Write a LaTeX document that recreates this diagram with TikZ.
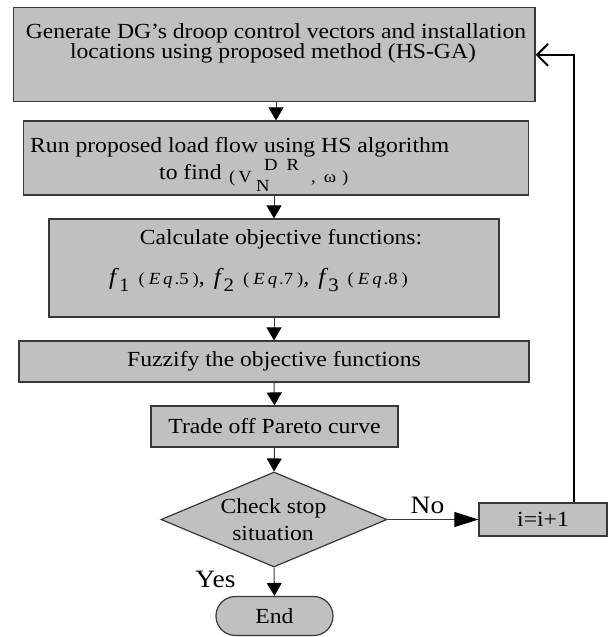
\documentclass[tikz,border=0pt]{standalone}
\usepackage{fontspec}
\setmainfont{Liberation Serif}[FakeStretch=1.1]
\usetikzlibrary{arrows.meta,shapes.geometric}
\definecolor{boxfill}{HTML}{C0C0C0}
\definecolor{edge}{HTML}{383838}
\tikzset{
  box/.style={draw=edge, line width=1.2pt, fill=boxfill, rectangle, inner sep=0pt},
  txt/.style={font=\fontsize{21.5}{20}\selectfont, inner sep=0pt},
  smalltxt/.style={font=\fontsize{17}{17}\selectfont, inner sep=0pt},
  bigtxt/.style={font=\fontsize{25}{25}\selectfont, inner sep=0pt},
  conn/.style={draw=edge, line width=1pt, -{Triangle[width=15pt,length=13pt,color=black]}},
  noarrow/.style={draw=edge, line width=1pt, -{Triangle[width=15pt,length=24pt,color=black]}},
  backarrow/.style={draw=black, line width=2pt, -{Straight Barb[width=22pt,length=11pt,line width=2pt]}}
}
\newcommand{\feq}[2]{{\fontsize{23}{23}\selectfont\textit{f}}\raisebox{-7pt}{\fontsize{19}{19}\selectfont #1}\hspace{9pt}{\fontsize{17}{17}\selectfont (\hspace{4pt}\textit{E\hspace{3pt}q}\hspace{2pt}.#2\hspace{4pt})}}
\begin{document}
\begin{tikzpicture}[x=1pt,y=-1pt]
\useasboundingbox (0,0) rectangle (608,637);
% boxes
\node[box, minimum width=521.3pt, minimum height=94pt] (b1) at (274.35,54.85) {};
\node[box, minimum width=504.6pt, minimum height=74pt] (b2) at (276,158) {};
\node[box, minimum width=450pt, minimum height=98pt] (b3) at (274,268) {};
\node[box, minimum width=510pt, minimum height=41pt, txt] (b4) at (274,361.5) {Fuzzify the objective functions};
\node[box, minimum width=247pt, minimum height=41pt, txt] (b5) at (274.5,426.5) {Trade off Pareto curve};
\node[box, shape=diamond, minimum width=226pt, minimum height=95pt, aspect=2.38] (dia) at (274,519.5) {};
\node[box, minimum width=128pt, minimum height=33pt, txt] (ib) at (543,519.5) {i=i+1};
\node[box, minimum width=117pt, minimum height=39pt, rounded corners=19.4pt, txt] (end) at (274.5,616) {End};
% texts
\node[txt, anchor=base] (t1a) at (276,38.5) {Generate DG’s droop control vectors and installation};
\node[txt, anchor=base] (t1b) at (273,58) {locations using proposed method (HS-GA)};
\node[txt, anchor=base west] (t2a) at (30,152) {Run proposed load flow using HS algorithm};
\node[txt, anchor=base west] (t2b) at (159,179) {to find};
\node[smalltxt, anchor=base west] (t2c) at (229,182) {(\hspace{3pt}V};
\node[smalltxt, anchor=base west] (t2d) at (264,170) {D\hspace{9pt}R};
\node[smalltxt, anchor=base west] (t2e) at (256,191) {N};
\node[smalltxt, anchor=base west] (t2f) at (311,182) {,\hspace{8pt}ω\hspace{6pt})};
\node[txt, anchor=base] (t3a) at (281,244) {Calculate objective functions:};
\node[txt, anchor=base west] (t3b) at (109,284) {\feq{1}{5},\hspace{9pt}\feq{2}{7},\hspace{9pt}\feq{3}{8}};
\node[txt, anchor=base] (t6a) at (273.5,513) {Check stop};
\node[txt, anchor=base] (t6b) at (273,540) {situation};
\node[bigtxt, anchor=base] (yes) at (215.5,587) {Yes};
\node[bigtxt, anchor=base] (no) at (427.5,513) {No};
% connectors
\coordinate (fbx) at (574,0);
\draw[conn] (b2.north |- b1.south) -- (b2.north);
\draw[conn] (b2.south -| b3.north) -- (b3.north);
\draw[conn] (b3.south) -- (b4.north);
\draw[conn] (b4.south) -- (b5.north);
\draw[conn] (b5.south) -- (dia.north);
\draw[conn] (dia.south) -- (end.north);
\draw[noarrow] (dia.east) -- (ib.west);
\draw[backarrow] (ib.north -| fbx) |- (b1.east);
\end{tikzpicture}
\end{document}
